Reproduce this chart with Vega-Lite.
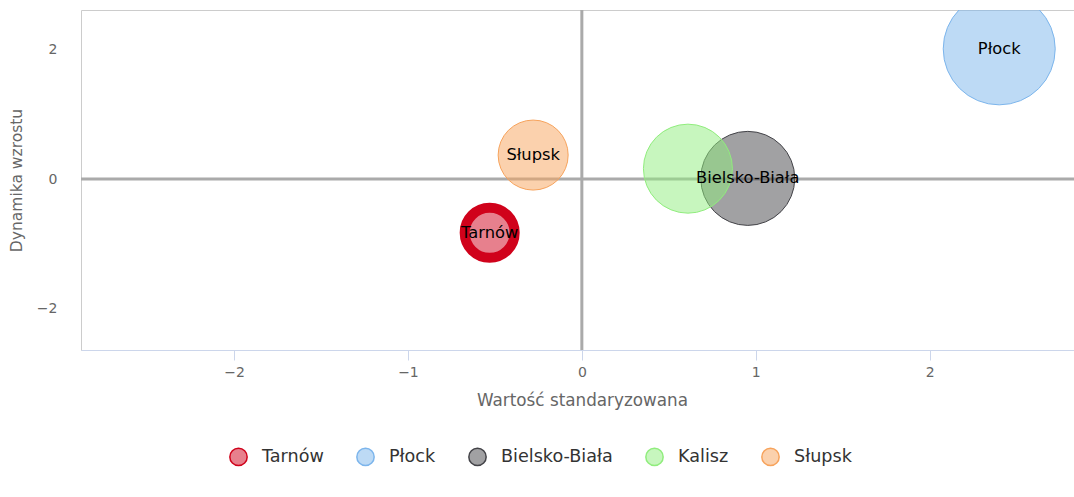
{
  "$schema": "https://vega.github.io/schema/vega-lite/v6.json",
  "width": 993,
  "height": 340,
  "autosize": {"type": "none"},
  "padding": {"left": 81, "top": 10, "right": 0, "bottom": 147},
  "background": "#ffffff",
  "config": {
    "view": {"stroke": "#cccccc", "strokeWidth": 1},
    "font": "DejaVu Sans"
  },
  "datasets": {
    "cities": [
      {"miasto": "Tarnów", "x": -0.53, "y": -0.83, "z": 6.25},
      {"miasto": "Płock", "x": 2.4, "y": 2.01, "z": 31.36},
      {"miasto": "Bielsko-Biała", "x": 0.954, "y": 0.01, "z": 22.09},
      {"miasto": "Kalisz", "x": 0.61, "y": 0.16, "z": 19.8},
      {"miasto": "Słupsk", "x": -0.28, "y": 0.37, "z": 12.25}
    ],
    "zero": [{"v": 0}]
  },
  "layer": [
    {
      "data": {"name": "zero"},
      "mark": {"type": "rule", "color": "#aaaaaa", "strokeWidth": 3},
      "encoding": {
        "x": {"field": "v", "type": "quantitative", "scale": {"domain": [-2.88, 2.83], "nice": false, "zero": false}}
      }
    },
    {
      "data": {"name": "zero"},
      "mark": {"type": "rule", "color": "#aaaaaa", "strokeWidth": 3},
      "encoding": {
        "y": {"field": "v", "type": "quantitative", "scale": {"domain": [-2.64, 2.61], "nice": false, "zero": false}}
      }
    },
    {
      "data": {"name": "cities"},
      "mark": {"type": "point", "shape": "circle", "filled": true, "fillOpacity": 0.5, "strokeOpacity": 1, "opacity": 1, "clip": true},
      "encoding": {
        "x": {
          "field": "x", "type": "quantitative",
          "scale": {"domain": [-2.88, 2.83], "nice": false, "zero": false},
          "axis": {
            "values": [-2, -1, 0, 1, 2],
            "format": "d",
            "grid": false,
            "domainColor": "#ccd6eb",
            "tickColor": "#ccd6eb",
            "tickSize": 10,
            "labelColor": "#666666",
            "labelFontSize": 14,
            "labelPadding": 5,
            "labelFont": "DejaVu Sans",
            "title": "Wartość standaryzowana",
            "titleColor": "#666666",
            "titleFontSize": 16.8,
            "titleFontWeight": "normal",
            "titleFont": "DejaVu Sans",
            "titlePadding": 13,
            "titleX": 501
          }
        },
        "y": {
          "field": "y", "type": "quantitative",
          "scale": {"domain": [-2.64, 2.61], "nice": false, "zero": false},
          "axis": {
            "values": [-2, 0, 2],
            "format": "d",
            "grid": false,
            "domain": false,
            "ticks": false,
            "labelColor": "#666666",
            "labelFontSize": 14,
            "labelPadding": 24,
            "labelFont": "DejaVu Sans",
            "title": "Dynamika wzrostu",
            "titleColor": "#666666",
            "titleFontSize": 15.5,
            "titleFontWeight": "normal",
            "titleFont": "DejaVu Sans",
            "titlePadding": 12
          }
        },
        "size": {
          "field": "z", "type": "quantitative",
          "scale": {"type": "linear", "zero": true, "domain": [0, 31.36], "range": [0, 12544]},
          "legend": null
        },
        "fill": {
          "field": "miasto", "type": "nominal",
          "sort": ["Tarnów", "Płock", "Bielsko-Biała", "Kalisz", "Słupsk"],
          "scale": {"domain": ["Tarnów", "Płock", "Bielsko-Biała", "Kalisz", "Słupsk"], "range": ["#d0021b", "#7cb5ec", "#434348", "#90ed7d", "#f7a35c"]},
          "legend": {
            "title": null,
            "orient": "none",
            "legendX": 148,
            "legendY": 437,
            "direction": "horizontal",
            "symbolType": "circle",
            "symbolSize": 300,
            "labelFontSize": 17.6,
            "labelFont": "DejaVu Sans",
            "labelColor": "#333333",
            "labelOffset": 14,
            "columnPadding": 29,
            "labelLimit": 300,
            "encoding": {
              "symbols": {"fillOpacity": {"value": 0.5}, "strokeOpacity": {"value": 1}, "strokeWidth": {"value": 1.5}}
            }
          }
        },
        "stroke": {
          "field": "miasto", "type": "nominal",
          "sort": ["Tarnów", "Płock", "Bielsko-Biała", "Kalisz", "Słupsk"],
          "scale": {"domain": ["Tarnów", "Płock", "Bielsko-Biała", "Kalisz", "Słupsk"], "range": ["#d0021b", "#7cb5ec", "#434348", "#90ed7d", "#f7a35c"]}
        },
        "strokeWidth": {
          "condition": {"test": "datum.miasto === 'Tarnów'", "value": 10},
          "value": 1
        }
      }
    },
    {
      "data": {"name": "cities"},
      "transform": [{"filter": "datum.miasto !== 'Kalisz'"}],
      "mark": {"type": "text", "align": "center", "baseline": "middle", "fontSize": 16.3, "font": "DejaVu Sans", "color": "#000000", "clip": true},
      "encoding": {
        "x": {"field": "x", "type": "quantitative"},
        "y": {"field": "y", "type": "quantitative"},
        "text": {"field": "miasto", "type": "nominal"}
      }
    }
  ]
}
